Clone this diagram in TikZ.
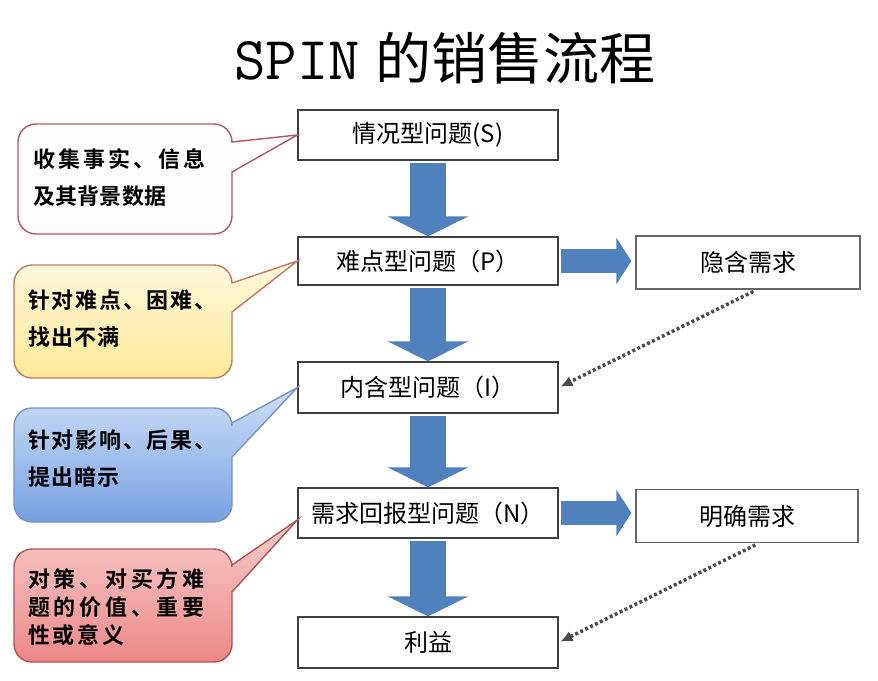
\documentclass[tikz,border=0pt]{standalone}
\usepackage{fontspec}
\newfontfamily\cjk{Noto Sans CJK SC}
\newfontfamily\cjkbold{Noto Sans CJK SC Bold}
\usetikzlibrary{arrows.meta}

\definecolor{flowblue}{HTML}{4F81BD}
\definecolor{boxline}{HTML}{404040}

% rounded speech bubble: style, left, top, bottom, tail top, tail bottom, tip
\newcommand{\bubble}[7]{%
  \draw[#1] (232,#6) -- (232,#4-18) arc[start angle=0,end angle=90,radius=18]
    -- (#2+18,#4) arc[start angle=90,end angle=180,radius=18]
    -- (#2,#3+18) arc[start angle=180,end angle=270,radius=18]
    -- (214,#3) arc[start angle=270,end angle=360,radius=18]
    -- (232,#5) -- (#7) -- cycle;}

\begin{document}
\begin{tikzpicture}[x=1pt,y=-1pt,
    qbox/.style={draw=boxline, line width=1.3pt, fill=white, minimum width=260pt,
      minimum height=50pt, inner sep=0pt, font=\cjk\fontsize{24}{27}\selectfont},
    needbox/.style={qbox, draw=black!60, minimum width=224pt, minimum height=53pt},
    bigarrow/.style={draw=flowblue, line width=36pt,
      -{Triangle[width=80pt,length=20pt]}, shorten <=2pt},
    sidearrow/.style={draw=flowblue, line width=24pt,
      -{Triangle[width=46pt,length=15pt]}, shorten <=2pt, shorten >=4pt},
    hint/.style={draw=black!70, line width=3.5pt, dash pattern=on 3pt off 2.5pt,
      -{Latex[length=12pt,width=11pt]}, shorten >=2pt, shorten <=4pt},
    note/.style={anchor=west, align=left, inner sep=0pt,
      font=\cjkbold\fontsize{22}{37}\selectfont},
    bubbleA/.style={draw={rgb,255:red,176;green,88;blue,104}, line width=1.4pt,
      fill={rgb,255:red,255;green,252;blue,252}},
    bubbleB/.style={draw={rgb,255:red,196;green,120;blue,96}, line width=1.4pt,
      top color={rgb,255:red,255;green,250;blue,222},
      bottom color={rgb,255:red,255;green,232;blue,150}},
    bubbleC/.style={draw={rgb,255:red,118;green,148;blue,196}, line width=1.4pt,
      top color={rgb,255:red,206;green,223;blue,248},
      bottom color={rgb,255:red,120;green,160;blue,226}},
    bubbleD/.style={draw={rgb,255:red,176;green,84;blue,84}, line width=1.4pt,
      top color={rgb,255:red,250;green,204;blue,204},
      bottom color={rgb,255:red,236;green,136;blue,136}},
  ]
  \useasboundingbox (0,0) rectangle (878,680);

  % title
  \node (title) at (445,58) {\ttfamily\fontsize{61}{61}\selectfont SPIN\hspace{16pt}%
    \cjk\fontsize{56}{60}\selectfont 的销售流程};

  % question boxes
  \node[qbox] (S) at (428,135) {情况型问题(S)};
  \node[qbox, minimum height=48pt] (P) at (428,261) {难点型问题（P）};
  \node[qbox, minimum height=51pt] (I) at (428,387.5) {内含型问题（I）};
  \node[qbox] (N) at (428,513) {需求回报型问题（N）};
  \node[qbox, minimum height=51pt] (B) at (428,642.5) {利益};

  % needs
  \node[needbox] (H) at (748,262.5) {隐含需求};
  \node[needbox, minimum width=222pt] (M) at (747,516) {明确需求};

  % flow
  \draw[bigarrow] (S.south) -- (P.north);
  \draw[bigarrow] (P.south) -- (I.north);
  \draw[bigarrow] (I.south) -- (N.north);
  \draw[bigarrow] (N.south) -- (B.north);
  \draw[sidearrow] (P.east) -- (P.east -| H.west);
  \draw[sidearrow] (N.east) -- (N.east -| M.west);
  \draw[hint] ([xshift=9pt]H.south) -- (I.east);
  \draw[hint] ([xshift=12pt]M.south) -- (B.east);

  % speech bubbles
  \bubble{bubbleA}{18}{124}{234}{142}{172}{S.west}
  \bubble{bubbleB}{14}{265}{378}{283}{312}{P.west}
  \bubble{bubbleC}{14}{408}{522}{423}{457}{I.west}
  \bubble{bubbleD}{14}{549}{662}{565}{592}{[yshift=-7pt]N.west}

  \node[note] (nS) at (33,178) {{\addfontfeature{LetterSpace=14}收集事实、信息}\\
    {\addfontfeature{LetterSpace=1}及其背景数据}};
  \node[note] (nP) at (28,319) {{\addfontfeature{LetterSpace=8}针对难点、困难、}\\
    {\addfontfeature{LetterSpace=5}找出不满}};
  \node[note] (nI) at (28,459) {{\addfontfeature{LetterSpace=8}针对影响、后果、}\\
    {\addfontfeature{LetterSpace=5}提出暗示}};
  \node[note, font=\cjkbold\fontsize{22}{28}\selectfont] (nN) at (28,607)
    {{\addfontfeature{LetterSpace=17}对策、对买方难}\\
    {\addfontfeature{LetterSpace=17}题的价值、重要}\\
    {\addfontfeature{LetterSpace=12}性或意义}};
\end{tikzpicture}
\end{document}
